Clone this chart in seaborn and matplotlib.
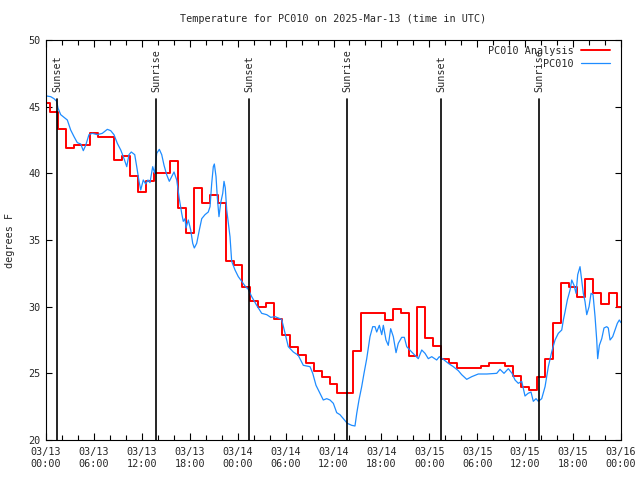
import matplotlib
matplotlib.use("Agg")
import matplotlib.pyplot as plt
from matplotlib.ticker import MultipleLocator
import seaborn as sns

# hourly analysis values, hours after 03/13 00:00 UTC
analysis_temp = [
    45.3, 44.6, 43.3, 41.9, 42.1, 42.1, 43.0, 42.75, 42.75, 41.0,
    41.3, 39.8, 38.6, 39.4, 40.0, 40.0, 40.9, 37.4, 35.5, 38.9,
    37.8, 38.4, 37.75, 33.4, 33.1, 31.5, 30.4, 29.95, 30.25, 29.07,
    27.9, 26.97, 26.35, 25.8, 25.2, 24.7, 24.2, 23.55, 23.55, 26.7,
    29.5, 29.55, 29.55, 29.0, 29.8, 29.5, 26.3, 29.95, 27.65, 27.05,
    26.05, 25.75, 25.4, 25.4, 25.4, 25.55, 25.8, 25.8, 25.55, 24.8,
    24.0, 23.75, 24.7, 26.1, 28.75, 31.75, 31.5, 30.7, 32.1, 31.05,
    30.2, 31.0, 30.0,
]
analysis_hours = list(range(len(analysis_temp)))

# station observations
obs_hours = [
    0.09, 0.59, 1.00, 1.34, 1.50, 1.84, 2.25, 2.67, 3.09, 3.51,
    3.92, 4.35, 4.67, 4.97, 5.38, 5.80, 6.42, 7.05, 7.68, 8.10,
    8.51, 8.93, 9.36, 9.77, 10.11, 10.39, 10.68, 11.11, 11.36, 11.65,
    11.86, 12.18, 12.48, 12.77, 13.02, 13.36, 13.61, 13.86, 14.19, 14.49,
    14.78, 15.11, 15.44, 15.74, 16.03, 16.37, 16.69, 16.99, 17.19, 17.41,
    17.53, 17.82, 18.12, 18.37, 18.57, 18.87, 19.20, 19.50, 19.91, 20.32,
    20.54, 20.75, 20.95, 21.08, 21.29, 21.45, 21.66, 21.88, 22.13, 22.29,
    22.45, 22.63, 22.83, 23.04, 23.25, 23.67, 24.08, 24.51, 24.92, 25.33,
    25.76, 26.38, 27.01, 27.64, 28.14, 28.68, 29.51, 29.93, 30.34, 30.97,
    31.59, 32.22, 33.06, 33.40, 33.81, 34.31, 34.72, 35.15, 35.56, 35.98,
    36.40, 36.81, 37.23, 37.73, 38.28, 38.69, 38.91, 39.19, 39.53, 39.82,
    40.16, 40.57, 40.91, 41.20, 41.41, 41.74, 42.04, 42.24, 42.57, 42.86,
    43.16, 43.49, 43.83, 44.11, 44.54, 44.87, 45.17, 45.79, 46.21, 46.62,
    47.05, 47.46, 47.87, 48.30, 48.92, 49.25, 49.75, 50.38, 51.00, 51.63,
    52.05, 52.68, 53.31, 54.13, 55.19, 56.44, 56.85, 57.35, 57.89, 58.35,
    58.73, 59.14, 59.57, 59.98, 60.36, 60.73, 61.02, 61.36, 61.65, 62.07,
    62.49, 62.90, 63.32, 63.74, 64.15, 64.58, 64.78, 64.99, 65.28, 65.62,
    65.83, 66.12, 66.37, 66.58, 66.87, 67.08, 67.28, 67.49, 67.71, 68.00,
    68.25, 68.50, 68.75, 68.96, 69.08, 69.29, 69.59, 69.87, 70.21, 70.41,
    70.63, 70.96, 71.25, 71.54, 71.79, 72.00,
]
obs_temp = [
    45.8, 45.75, 45.6, 45.4, 44.9, 44.4, 44.2, 44.0, 43.25, 42.75,
    42.3, 42.2, 41.7, 42.1, 42.9, 43.0, 42.9, 43.0, 43.3, 43.2,
    42.9, 42.25, 41.75, 41.1, 40.5, 41.4, 41.6, 41.4, 40.5, 39.4,
    38.75, 39.5, 39.2, 39.5, 39.3, 40.5, 40.0, 41.5, 41.8, 41.4,
    40.6, 39.9, 39.4, 39.75, 40.1, 39.5, 38.1, 37.0, 36.4, 36.6,
    35.9, 36.5, 35.75, 34.75, 34.4, 34.75, 35.75, 36.6, 36.9, 37.1,
    37.5, 39.25, 40.5, 40.7, 39.75, 38.2, 36.75, 37.8, 38.5, 39.4,
    38.9, 37.25, 36.25, 35.25, 33.4, 32.75, 32.25, 31.9, 31.55, 31.3,
    30.75, 30.1, 29.5, 29.4, 29.2, 29.25, 29.05, 28.0, 27.0, 26.6,
    26.35, 25.6, 25.5, 25.0, 24.1, 23.5, 23.0, 23.1, 23.0, 22.75,
    22.05, 21.9, 21.6, 21.25, 21.1, 21.05, 22.0, 23.0, 24.0, 25.0,
    26.1, 27.75, 28.5, 28.5, 28.1, 28.6, 27.9, 28.6, 27.5, 27.1,
    28.35, 27.75, 26.55, 27.25, 27.7, 27.7, 27.0, 26.6, 26.35, 26.1,
    26.75, 26.5, 26.1, 26.25, 26.0, 26.25, 26.05, 25.75, 25.5, 25.2,
    24.9, 24.55, 24.75, 24.95, 24.95, 25.0, 25.3, 25.0, 25.35, 25.0,
    24.5, 24.25, 24.4, 23.3, 23.5, 23.6, 22.9, 23.1, 22.9, 23.1,
    24.0, 25.5, 26.6, 27.5, 28.0, 28.25, 29.0, 29.6, 30.5, 31.25,
    32.0, 31.6, 31.0, 32.4, 33.0, 32.0, 31.0, 30.4, 29.4, 30.0,
    31.0, 30.9, 29.25, 27.5, 26.1, 27.1, 27.6, 28.4, 28.5, 28.4,
    27.5, 27.75, 28.25, 28.75, 29.0, 28.8,
]

sunset_hours = [1.42, 25.45, 49.5]
sunrise_hours = [13.8, 37.75, 61.77]

tick_hours = [0, 6, 12, 18, 24, 30, 36, 42, 48, 54, 60, 66, 72]
tick_labels = [
    "03/13\n00:00", "03/13\n06:00", "03/13\n12:00", "03/13\n18:00",
    "03/14\n00:00", "03/14\n06:00", "03/14\n12:00", "03/14\n18:00",
    "03/15\n00:00", "03/15\n06:00", "03/15\n12:00", "03/15\n18:00",
    "03/16\n00:00",
]

sns.set_style("ticks")
plt.rcParams["font.family"] = ["DejaVu Sans Mono"]
FS = 7.3

fig = plt.figure(figsize=(6.4, 4.8), dpi=100)
ax = fig.add_axes([46 / 640, 40 / 480, 575 / 640, 400 / 480])

sns.lineplot(x=analysis_hours, y=analysis_temp, drawstyle="steps-mid",
             color="#ff0000", lw=1.4, label="PC010 Analysis", ax=ax)
sns.lineplot(x=obs_hours, y=obs_temp, color="#1e8cff", lw=0.9,
             label="PC010", ax=ax)

for name, hours in (("Sunset", sunset_hours), ("Sunrise", sunrise_hours)):
    for h in hours:
        ax.axvline(h, ymin=0, ymax=0.852, color="black", lw=1.2)
        ax.text(h, 0.87, name, transform=ax.get_xaxis_transform(),
                rotation=90, ha="center", va="bottom", fontsize=FS)

ax.set_xlim(0, 72)
ax.set_ylim(20, 50)
ax.set_xticks(tick_hours)
ax.set_xticklabels(tick_labels, fontsize=FS, linespacing=1.25)
ax.xaxis.set_minor_locator(MultipleLocator(2))
ax.set_yticks([20, 25, 30, 35, 40, 45, 50])
ax.tick_params(axis="both", which="both", direction="in", top=True, right=True,
               labelsize=FS, width=0.8, color="black")
ax.tick_params(axis="x", which="major", length=5, pad=5)
ax.tick_params(axis="x", which="minor", length=3.5)
ax.tick_params(axis="y", length=4, pad=4)
for sp in ax.spines.values():
    sp.set_visible(True)
    sp.set_linewidth(0.8)
    sp.set_color("black")
ax.set_xlabel("")
ax.set_ylabel("")

ax.legend(loc="upper right", bbox_to_anchor=(0.986, 0.993), frameon=False,
          markerfirst=False, fontsize=FS, handlelength=2.9, handletextpad=0.7,
          borderpad=0.3, borderaxespad=0, labelspacing=0.3)

fig.text(333.5 / 640, 1 - 19 / 480, "Temperature for PC010 on 2025-Mar-13 (time in UTC)",
         ha="center", va="center", fontsize=FS)
fig.text(10 / 640, 0.5, "degrees F", rotation=90, ha="center", va="center", fontsize=FS)

fig.savefig("out.png", dpi=100)
